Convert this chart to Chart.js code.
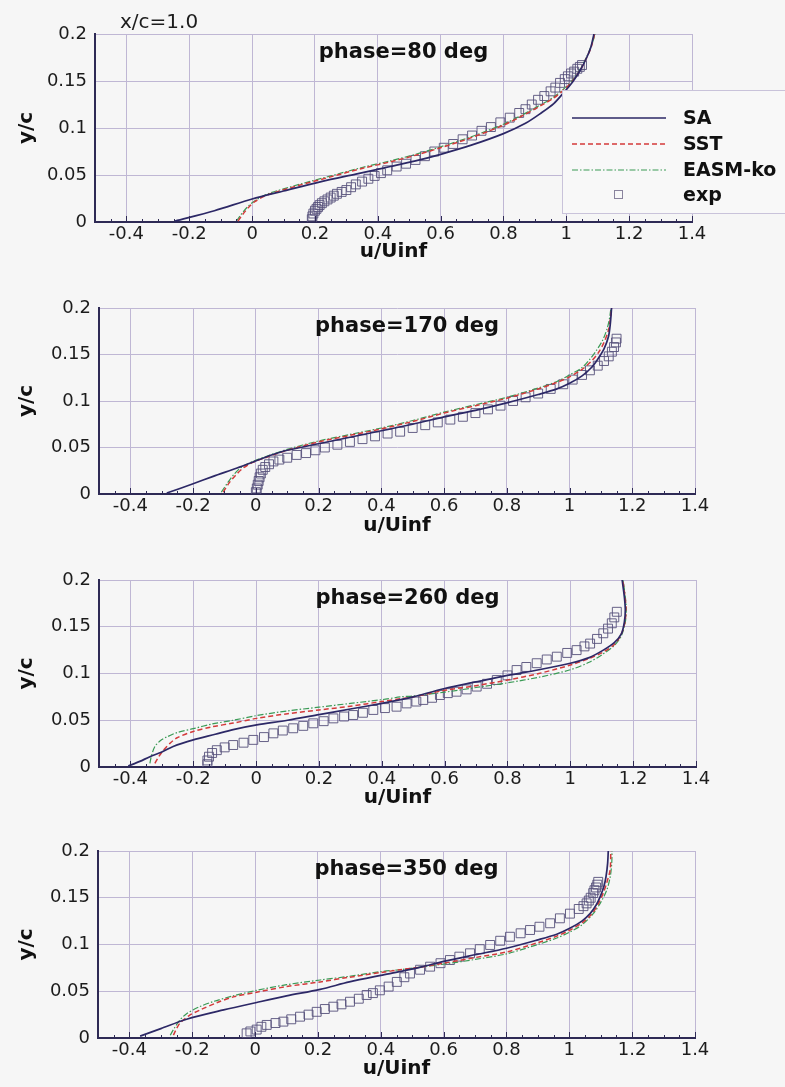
<!DOCTYPE html>
<html>
<head>
<meta charset="utf-8">
<script src="https://cdn.jsdelivr.net/npm/chart.js@4.4.1/dist/chart.umd.min.js"></script>
<style>
  html, body { margin: 0; padding: 0; background: #f6f6f6; }
  #wrap { position: relative; width: 785px; height: 1087px; overflow: hidden; }
  canvas { position: absolute; left: 0; }
</style>
</head>
<body>
<div id="wrap">
  <canvas id="p1" width="785" height="268" style="top:0px"></canvas>
  <canvas id="p2" width="785" height="268" style="top:274px"></canvas>
  <canvas id="p3" width="785" height="268" style="top:546px"></canvas>
  <canvas id="p4" width="785" height="268" style="top:817px"></canvas>
</div>
<script>
'use strict';

// axis ticks
var xTicks = [-0.4, -0.2, 0, 0.2, 0.4, 0.6, 0.8, 1, 1.2, 1.4];
var yTicks = [0, 0.05, 0.1, 0.15, 0.2];
var seriesNames = ['SA', 'SST', 'EASM-ko', 'exp'];
var phaseTitles = ['phase=80 deg', 'phase=170 deg', 'phase=260 deg', 'phase=350 deg'];

// phase = 80 deg  [u/Uinf, y/c]
var sa80 = [[-0.245,0.001],[-0.12,0.012],[0.0,0.0245],[0.1,0.033],[0.22,0.043],[0.33,0.051],[0.44,0.059],[0.52,0.065],[0.6,0.072],[0.7,0.082],[0.8,0.094],[0.87,0.105],[0.92,0.116],[0.96,0.126],[0.99,0.137],[1.02,0.149],[1.045,0.162],[1.065,0.175],[1.078,0.186],[1.088,0.2]];
var sst80 = [[-0.045,0.001],[-0.03,0.008],[-0.01,0.016],[0.01,0.022],[0.05,0.029],[0.15,0.039],[0.25,0.048],[0.35,0.057],[0.44,0.064],[0.52,0.071],[0.6,0.079],[0.7,0.09],[0.8,0.103],[0.86,0.113],[0.92,0.124],[0.96,0.132],[0.99,0.14],[1.02,0.15],[1.045,0.162],[1.065,0.175],[1.08,0.187],[1.09,0.2]];
var easm80 = [[-0.05,0.001],[-0.035,0.008],[-0.015,0.016],[0.01,0.023],[0.05,0.03],[0.15,0.04],[0.25,0.049],[0.35,0.058],[0.44,0.065],[0.52,0.072],[0.6,0.08],[0.7,0.091],[0.8,0.104],[0.86,0.114],[0.92,0.125],[0.96,0.133],[0.99,0.141],[1.02,0.151],[1.045,0.163],[1.065,0.176],[1.08,0.188],[1.092,0.2]];
var exp80 = [[0.19,0.003],[0.192,0.006],[0.195,0.009],[0.2,0.012],[0.205,0.014],[0.21,0.016],[0.215,0.018],[0.222,0.02],[0.23,0.022],[0.24,0.024],[0.25,0.026],[0.26,0.028],[0.27,0.03],[0.285,0.032],[0.3,0.034],[0.315,0.037],[0.33,0.04],[0.35,0.043],[0.37,0.046],[0.39,0.049],[0.41,0.052],[0.43,0.055],[0.46,0.059],[0.49,0.062],[0.52,0.066],[0.55,0.07],[0.58,0.075],[0.61,0.079],[0.64,0.083],[0.67,0.088],[0.7,0.092],[0.73,0.097],[0.76,0.101],[0.79,0.106],[0.82,0.111],[0.85,0.116],[0.87,0.12],[0.89,0.125],[0.91,0.13],[0.93,0.134],[0.95,0.139],[0.965,0.143],[0.98,0.148],[0.995,0.152],[1.005,0.155],[1.015,0.158],[1.025,0.16],[1.035,0.163],[1.043,0.165],[1.05,0.167]];

// phase = 170 deg
var sa170 = [[-0.284,0.001],[-0.2,0.011],[-0.136,0.019],[-0.06,0.028],[0.003,0.036],[0.05,0.042],[0.1,0.047],[0.2,0.054],[0.3,0.061],[0.4,0.068],[0.5,0.075],[0.6,0.083],[0.7,0.09],[0.8,0.098],[0.9,0.107],[0.96,0.113],[1.0,0.119],[1.04,0.127],[1.07,0.136],[1.09,0.145],[1.11,0.156],[1.124,0.169],[1.13,0.183],[1.134,0.2]];
var sst170 = [[-0.104,0.002],[-0.085,0.012],[-0.065,0.02],[-0.04,0.028],[-0.01,0.034],[0.03,0.039],[0.1,0.047],[0.2,0.056],[0.3,0.063],[0.4,0.07],[0.5,0.078],[0.6,0.087],[0.7,0.095],[0.8,0.103],[0.9,0.113],[0.96,0.12],[1.0,0.126],[1.04,0.134],[1.07,0.143],[1.09,0.151],[1.11,0.163],[1.124,0.176],[1.13,0.188],[1.134,0.2]];
var easm170 = [[-0.11,0.002],[-0.09,0.012],[-0.07,0.021],[-0.045,0.029],[-0.01,0.035],[0.03,0.04],[0.1,0.048],[0.2,0.057],[0.3,0.064],[0.4,0.071],[0.5,0.079],[0.6,0.088],[0.7,0.096],[0.8,0.104],[0.9,0.114],[0.96,0.121],[1.0,0.128],[1.04,0.136],[1.065,0.145],[1.085,0.154],[1.105,0.165],[1.12,0.178],[1.128,0.19],[1.132,0.2]];
var exp170 = [[0.0,0.002],[0.003,0.006],[0.006,0.01],[0.009,0.014],[0.012,0.018],[0.016,0.022],[0.022,0.026],[0.03,0.029],[0.042,0.032],[0.056,0.035],[0.075,0.037],[0.1,0.039],[0.13,0.042],[0.16,0.044],[0.19,0.047],[0.22,0.05],[0.26,0.053],[0.3,0.056],[0.34,0.059],[0.38,0.062],[0.42,0.065],[0.46,0.067],[0.5,0.071],[0.54,0.074],[0.58,0.077],[0.62,0.08],[0.66,0.083],[0.7,0.087],[0.74,0.091],[0.78,0.095],[0.82,0.1],[0.86,0.104],[0.9,0.108],[0.94,0.113],[0.98,0.118],[1.01,0.123],[1.04,0.128],[1.065,0.133],[1.09,0.138],[1.11,0.143],[1.125,0.148],[1.135,0.153],[1.142,0.158],[1.148,0.163],[1.15,0.167]];

// phase = 260 deg
var sa260 = [[-0.407,0.001],[-0.37,0.006],[-0.338,0.011],[-0.3,0.016],[-0.264,0.022],[-0.2,0.029],[-0.13,0.035],[-0.073,0.04],[0.002,0.045],[0.1,0.05],[0.2,0.056],[0.3,0.062],[0.4,0.068],[0.46,0.072],[0.5,0.075],[0.6,0.084],[0.7,0.091],[0.8,0.098],[0.9,0.104],[1.0,0.111],[1.06,0.117],[1.105,0.125],[1.14,0.133],[1.162,0.142],[1.172,0.155],[1.175,0.168],[1.172,0.182],[1.165,0.2]];
var sst260 = [[-0.322,0.004],[-0.31,0.011],[-0.295,0.018],[-0.275,0.025],[-0.253,0.031],[-0.2,0.038],[-0.14,0.043],[-0.073,0.047],[0.002,0.052],[0.1,0.057],[0.2,0.061],[0.3,0.065],[0.4,0.07],[0.46,0.073],[0.5,0.075],[0.6,0.082],[0.7,0.087],[0.8,0.093],[0.9,0.1],[1.0,0.109],[1.06,0.116],[1.105,0.123],[1.14,0.131],[1.162,0.142],[1.174,0.155],[1.177,0.17],[1.173,0.185],[1.167,0.2]];
var easm260 = [[-0.338,0.004],[-0.333,0.012],[-0.322,0.022],[-0.305,0.028],[-0.285,0.032],[-0.25,0.037],[-0.2,0.041],[-0.14,0.046],[-0.073,0.05],[0.002,0.055],[0.1,0.06],[0.2,0.064],[0.3,0.068],[0.4,0.072],[0.46,0.075],[0.5,0.076],[0.6,0.08],[0.7,0.085],[0.8,0.09],[0.9,0.096],[1.0,0.104],[1.06,0.112],[1.105,0.121],[1.14,0.13],[1.162,0.14],[1.175,0.155],[1.178,0.17],[1.174,0.185],[1.168,0.2]];
var exp260 = [[-0.155,0.003],[-0.155,0.007],[-0.15,0.011],[-0.14,0.015],[-0.125,0.018],[-0.1,0.021],[-0.073,0.0235],[-0.04,0.026],[-0.009,0.029],[0.025,0.032],[0.055,0.036],[0.085,0.039],[0.118,0.0414],[0.15,0.044],[0.182,0.0467],[0.215,0.049],[0.246,0.052],[0.28,0.054],[0.309,0.0556],[0.34,0.058],[0.373,0.061],[0.41,0.063],[0.447,0.0645],[0.479,0.068],[0.51,0.07],[0.532,0.0717],[0.56,0.074],[0.585,0.077],[0.61,0.079],[0.638,0.0805],[0.67,0.083],[0.702,0.086],[0.735,0.089],[0.766,0.093],[0.8,0.098],[0.829,0.1037],[0.86,0.107],[0.893,0.111],[0.925,0.115],[0.957,0.118],[0.99,0.122],[1.02,0.125],[1.045,0.129],[1.063,0.132],[1.085,0.137],[1.105,0.143],[1.12,0.148],[1.132,0.1537],[1.14,0.16],[1.148,0.166]];

// phase = 350 deg
var sa350 = [[-0.366,0.002],[-0.3,0.01],[-0.218,0.02],[-0.1,0.03],[0.005,0.038],[0.1,0.045],[0.207,0.052],[0.3,0.06],[0.4,0.067],[0.461,0.071],[0.53,0.076],[0.6,0.082],[0.7,0.089],[0.8,0.096],[0.9,0.105],[0.96,0.111],[1.0,0.117],[1.04,0.125],[1.066,0.133],[1.085,0.142],[1.098,0.151],[1.11,0.162],[1.117,0.173],[1.122,0.187],[1.124,0.2]];
var sst350 = [[-0.26,0.003],[-0.25,0.01],[-0.239,0.016],[-0.21,0.024],[-0.175,0.03],[-0.12,0.038],[-0.069,0.044],[0.005,0.049],[0.1,0.055],[0.207,0.06],[0.3,0.065],[0.4,0.07],[0.461,0.073],[0.53,0.076],[0.6,0.08],[0.7,0.086],[0.8,0.092],[0.9,0.102],[0.96,0.109],[1.0,0.115],[1.04,0.123],[1.07,0.132],[1.09,0.142],[1.108,0.155],[1.12,0.167],[1.13,0.18],[1.132,0.2]];
var easm350 = [[-0.27,0.003],[-0.258,0.01],[-0.24,0.019],[-0.218,0.026],[-0.18,0.033],[-0.133,0.039],[-0.07,0.045],[0.005,0.051],[0.1,0.057],[0.207,0.062],[0.3,0.066],[0.4,0.071],[0.461,0.073],[0.53,0.076],[0.6,0.079],[0.7,0.084],[0.8,0.09],[0.9,0.1],[0.96,0.107],[1.0,0.113],[1.04,0.121],[1.076,0.133],[1.1,0.145],[1.119,0.158],[1.13,0.172],[1.135,0.187],[1.136,0.2]];
var exp350 = [[-0.027,0.005],[-0.015,0.007],[0.005,0.009],[0.02,0.012],[0.037,0.014],[0.065,0.016],[0.09,0.0175],[0.115,0.02],[0.143,0.0228],[0.17,0.025],[0.196,0.028],[0.222,0.031],[0.249,0.0335],[0.275,0.036],[0.302,0.0388],[0.33,0.042],[0.355,0.046],[0.375,0.048],[0.397,0.051],[0.425,0.055],[0.451,0.06],[0.475,0.065],[0.493,0.069],[0.525,0.073],[0.557,0.0763],[0.59,0.08],[0.62,0.0834],[0.65,0.087],[0.684,0.0906],[0.715,0.095],[0.748,0.0995],[0.78,0.104],[0.811,0.1083],[0.845,0.112],[0.875,0.1155],[0.905,0.119],[0.939,0.1227],[0.97,0.128],[1.002,0.133],[1.03,0.138],[1.045,0.141],[1.055,0.144],[1.062,0.147],[1.068,0.15],[1.076,0.155],[1.08,0.158],[1.085,0.161],[1.089,0.164],[1.092,0.167]];

var panelData = [
  [sa80, sst80, easm80, exp80],
  [sa170, sst170, easm170, exp170],
  [sa260, sst260, easm260, exp260],
  [sa350, sst350, easm350, exp350]
];

// layout of each panel (canvas pixels)
var panelLayout = [
  { id: 'p1', left: 95, right: 692, plotH: 188 },
  { id: 'p2', left: 99, right: 695, plotH: 186 },
  { id: 'p3', left: 99, right: 696, plotH: 187 },
  { id: 'p4', left: 98, right: 695, plotH: 187 }
];
var CANVAS_H = 268, PLOT_TOP = 34;

var lineStyles = [
  { color: '#2c2866', width: 1.7, dash: [] },
  { color: '#d33a3a', width: 1.5, dash: [5, 3] },
  { color: '#3a9a55', width: 1.2, dash: [6, 2, 1.5, 2] }
];
var expColor = '#56507a';
var gridColor = '#bfb7d4';
var axisColor = '#2e2a55';
var FONT = 'DejaVu Sans';

Chart.defaults.font.family = FONT;
Chart.defaults.color = '#1c1c1c';

function toPoints(arr) {
  return arr.map(function(p) { return { x: p[0], y: p[1] }; });
}

function fmt(v) { return String(+v.toFixed(2)); }

function decorPlugin(idx) {
  return {
    id: 'decor' + idx,
    afterDraw: function(chart) {
      var ctx = chart.ctx, a = chart.chartArea;
      var xs = chart.scales.x;
      ctx.save();
      // minor / major ticks on bottom axis
      ctx.strokeStyle = axisColor;
      ctx.lineWidth = 1;
      for (var i = -10; i <= 28; i++) {
        var px = Math.round(xs.getPixelForValue(i * 0.05)) + 0.5;
        var len = (i % 4 === 0) ? 6 : 3;
        ctx.beginPath();
        ctx.moveTo(px, a.bottom);
        ctx.lineTo(px, a.bottom - len);
        ctx.stroke();
      }
      // phase title
      ctx.fillStyle = '#111';
      ctx.font = 'bold 21px ' + FONT;
      ctx.textAlign = 'center';
      ctx.textBaseline = 'middle';
      ctx.fillText(phaseTitles[idx], (a.left + a.right) / 2 + 10, a.top + 19);

      if (idx === 0) {
        // station label
        ctx.font = '20px ' + FONT;
        ctx.textAlign = 'left';
        ctx.fillStyle = '#1c1c1c';
        ctx.fillText('x/c=1.0', 120, 23);
        // legend box
        var bx = 562, by = 90, bw = 240, bh = 123;
        ctx.fillStyle = '#f8f8f8';
        ctx.fillRect(bx, by, bw, bh);
        ctx.strokeStyle = '#c9c3da';
        ctx.lineWidth = 1;
        ctx.strokeRect(bx + 0.5, by + 0.5, bw, bh);
        var rows = [118, 144, 170, 195];
        ctx.font = 'bold 19px ' + FONT;
        ctx.textBaseline = 'middle';
        for (var r = 0; r < 4; r++) {
          var y = rows[r];
          if (r < 3) {
            var st = lineStyles[r];
            ctx.strokeStyle = st.color;
            ctx.lineWidth = st.width;
            ctx.setLineDash(st.dash);
            ctx.beginPath();
            ctx.moveTo(572, y);
            ctx.lineTo(666, y);
            ctx.stroke();
            ctx.setLineDash([]);
          } else {
            ctx.strokeStyle = '#8a849e';
            ctx.lineWidth = 1;
            ctx.strokeRect(614.5, y - 4.5, 8, 8);
          }
          ctx.fillStyle = '#111';
          ctx.fillText(seriesNames[r], 683, y + 1);
        }
      }
      ctx.restore();
    }
  };
}

function buildDatasets(series) {
  var ds = [];
  for (var k = 0; k < 3; k++) {
    ds.push({
      label: seriesNames[k],
      data: toPoints(series[k]),
      showLine: true,
      borderColor: lineStyles[k].color,
      borderWidth: lineStyles[k].width,
      borderDash: lineStyles[k].dash,
      pointRadius: 0,
      tension: 0.3,
      fill: false
    });
  }
  ds.push({
    label: seriesNames[3],
    data: toPoints(series[3]),
    showLine: false,
    pointStyle: 'rect',
    pointRadius: 6.3,
    borderColor: expColor,
    borderWidth: 0.9,
    backgroundColor: 'rgba(0,0,0,0)'
  });
  return ds;
}

panelLayout.forEach(function(lay, idx) {
  var ctx = document.getElementById(lay.id);
  new Chart(ctx, {
    type: 'scatter',
    data: { datasets: buildDatasets(panelData[idx]) },
    options: {
      responsive: false,
      animation: false,
      layout: { padding: { top: PLOT_TOP, right: 785 - lay.right, left: 0, bottom: 0 } },
      plugins: { legend: { display: false }, tooltip: { enabled: false } },
      scales: {
        x: {
          type: 'linear',
          min: -0.5,
          max: 1.4,
          afterBuildTicks: function(s) { s.ticks = xTicks.map(function(v) { return { value: v }; }); },
          afterFit: function(s) { s.height = CANVAS_H - PLOT_TOP - lay.plotH; },
          grid: { color: gridColor, lineWidth: 1, drawTicks: false },
          border: { color: axisColor, width: 2 },
          ticks: { padding: 2, font: { size: 18 }, color: '#1c1c1c', maxRotation: 0, callback: fmt },
          title: { display: true, text: 'u/Uinf', font: { size: 20, weight: 'bold' }, color: '#111', padding: { top: 0, bottom: 4 } }
        },
        y: {
          type: 'linear',
          min: 0,
          max: 0.2,
          afterBuildTicks: function(s) { s.ticks = yTicks.map(function(v) { return { value: v }; }); },
          afterFit: function(s) { s.width = lay.left; },
          grid: { color: gridColor, lineWidth: 1, drawTicks: false },
          border: { color: axisColor, width: 2 },
          ticks: { padding: 8, font: { size: 18 }, color: '#1c1c1c', callback: fmt },
          title: { display: true, text: 'y/c', font: { size: 20, weight: 'bold' }, color: '#111', padding: { top: 15, bottom: 0 } }
        }
      }
    },
    plugins: [decorPlugin(idx)]
  });
});
</script>
</body>
</html>
